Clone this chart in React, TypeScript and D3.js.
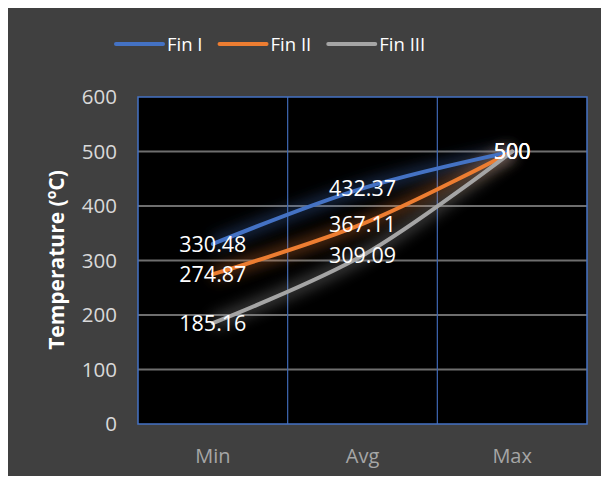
import { useEffect, useRef } from 'react';
import * as d3 from 'd3';

const categories = ['Min', 'Avg', 'Max'];
const seriesNames = ['Fin I', 'Fin II', 'Fin III'];
const finI = [330.48, 432.37, 500];
const finII = [274.87, 367.11, 500];
const finIII = [185.16, 309.09, 500];
const yTicks = [0, 100, 200, 300, 400, 500, 600];
const colors = ['#4472c4', '#ed7d31', '#a5a5a5'];

export default function App() {
  const svgRef = useRef<SVGSVGElement>(null);
  const width = 609;
  const height = 484;

  useEffect(() => {
    if (!svgRef.current) return;
    const svg = d3.select(svgRef.current);
    svg.selectAll('*').remove();

    const font = "'Open Sans', 'Noto Sans', sans-serif";
    const plot = { left: 138, top: 97, right: 587, bottom: 424 };

    const x = d3.scaleBand<string>().domain(categories).range([plot.left, plot.right]);
    const y = d3.scaleLinear().domain([0, 600]).range([plot.bottom, plot.top]);
    const cx = (c: string) => (x(c) as number) + x.bandwidth() / 2;

    // glow filter
    const defs = svg.append('defs');
    const f = defs.append('filter').attr('id', 'glow')
      .attr('x', '-20%').attr('y', '-40%').attr('width', '140%').attr('height', '180%');
    f.append('feGaussianBlur').attr('stdDeviation', 7);

    // frame + background
    svg.append('rect').attr('width', width).attr('height', height).attr('fill', '#ececec');
    svg.append('rect').attr('x', 5).attr('y', 6).attr('width', width - 5).attr('height', height - 6)
      .attr('fill', '#404040');

    // plot area
    svg.append('rect')
      .attr('x', plot.left).attr('y', plot.top)
      .attr('width', plot.right - plot.left).attr('height', plot.bottom - plot.top)
      .attr('fill', '#000');

    // horizontal gridlines
    svg.append('g')
      .selectAll('line')
      .data(yTicks.filter(t => t > 0 && t < 600))
      .enter()
      .append('line')
      .attr('x1', plot.left).attr('x2', plot.right)
      .attr('y1', d => y(d)).attr('y2', d => y(d))
      .attr('stroke', '#6e6e6e').attr('stroke-width', 2);

    // vertical category separators
    svg.append('g')
      .selectAll('line')
      .data(categories.slice(1))
      .enter()
      .append('line')
      .attr('x1', d => x(d) as number).attr('x2', d => x(d) as number)
      .attr('y1', plot.top).attr('y2', plot.bottom)
      .attr('stroke', '#3f68b5').attr('stroke-width', 1.2);

    svg.append('rect')
      .attr('x', plot.left).attr('y', plot.top)
      .attr('width', plot.right - plot.left).attr('height', plot.bottom - plot.top)
      .attr('fill', 'none').attr('stroke', '#4472c4').attr('stroke-width', 1.5);

    // y tick labels
    svg.append('g')
      .selectAll('text')
      .data(yTicks)
      .enter()
      .append('text')
      .attr('x', 117).attr('y', d => y(d))
      .attr('dy', '0.36em')
      .attr('text-anchor', 'end')
      .attr('fill', '#d9d9d9')
      .attr('font-family', font).attr('font-size', 20.5)
      .text(d => d);

    // x labels
    svg.append('g')
      .selectAll('text')
      .data(categories)
      .enter()
      .append('text')
      .attr('x', d => cx(d)).attr('y', 463)
      .attr('text-anchor', 'middle')
      .attr('fill', '#a6a6a6')
      .attr('font-family', font).attr('font-size', 20)
      .text(d => d);

    // axis title
    const title = svg.append('text')
      .attr('transform', 'translate(64,260) rotate(-90)')
      .attr('text-anchor', 'middle')
      .attr('fill', '#ffffff')
      .attr('font-family', font).attr('font-size', 21).attr('font-weight', 'bold');
    title.append('tspan').text('Temperature (');
    title.append('tspan').attr('font-size', 14).attr('dy', -8).text('o');
    title.append('tspan').attr('dy', 8).text('C)');

    // series
    const series = [finI, finII, finIII];
    const line = d3.line<number>()
      .x((_, i) => cx(categories[i]))
      .y(d => y(d))
      .curve(d3.curveCatmullRom.alpha(0.5));

    series.forEach((vals, i) => {
      svg.append('path')
        .attr('d', line(vals))
        .attr('fill', 'none')
        .attr('stroke', colors[i])
        .attr('stroke-width', 14)
        .attr('stroke-opacity', 0.35)
        .attr('filter', 'url(#glow)');
    });
    series.forEach((vals, i) => {
      svg.append('path')
        .attr('d', line(vals))
        .attr('fill', 'none')
        .attr('stroke', colors[i])
        .attr('stroke-width', 4)
        .attr('stroke-linecap', 'round');
    });

    // data labels
    series.forEach(vals => {
      svg.append('g')
        .selectAll('text')
        .data(vals)
        .enter()
        .append('text')
        .attr('x', (_, j) => cx(categories[j]))
        .attr('y', d => y(d))
        .attr('dy', '0.36em')
        .attr('text-anchor', 'middle')
        .attr('fill', '#ffffff')
        .attr('font-family', font).attr('font-size', 21.5)
        .text(d => (d === 500 ? '500' : d.toFixed(2)));
    });

    // legend
    const legend = svg.append('g').attr('transform', 'translate(116,44)');
    let lx = 0;
    seriesNames.forEach((name, i) => {
      legend.append('line')
        .attr('x1', lx).attr('x2', lx + 47)
        .attr('y1', 0).attr('y2', 0)
        .attr('stroke', colors[i]).attr('stroke-width', 4).attr('stroke-linecap', 'round');
      const t = legend.append('text')
        .attr('x', lx + 51).attr('y', 0).attr('dy', '0.36em')
        .attr('fill', '#ffffff')
        .attr('font-family', font).attr('font-size', 18.5)
        .text(name);
      const w = (t.node() as SVGTextElement).getComputedTextLength();
      lx += 51 + w + 17;
    });
  }, []);

  return (
    <div style={{ margin: -8 }}>
      <svg ref={svgRef} width={width} height={height} style={{ display: 'block' }} />
    </div>
  );
}
